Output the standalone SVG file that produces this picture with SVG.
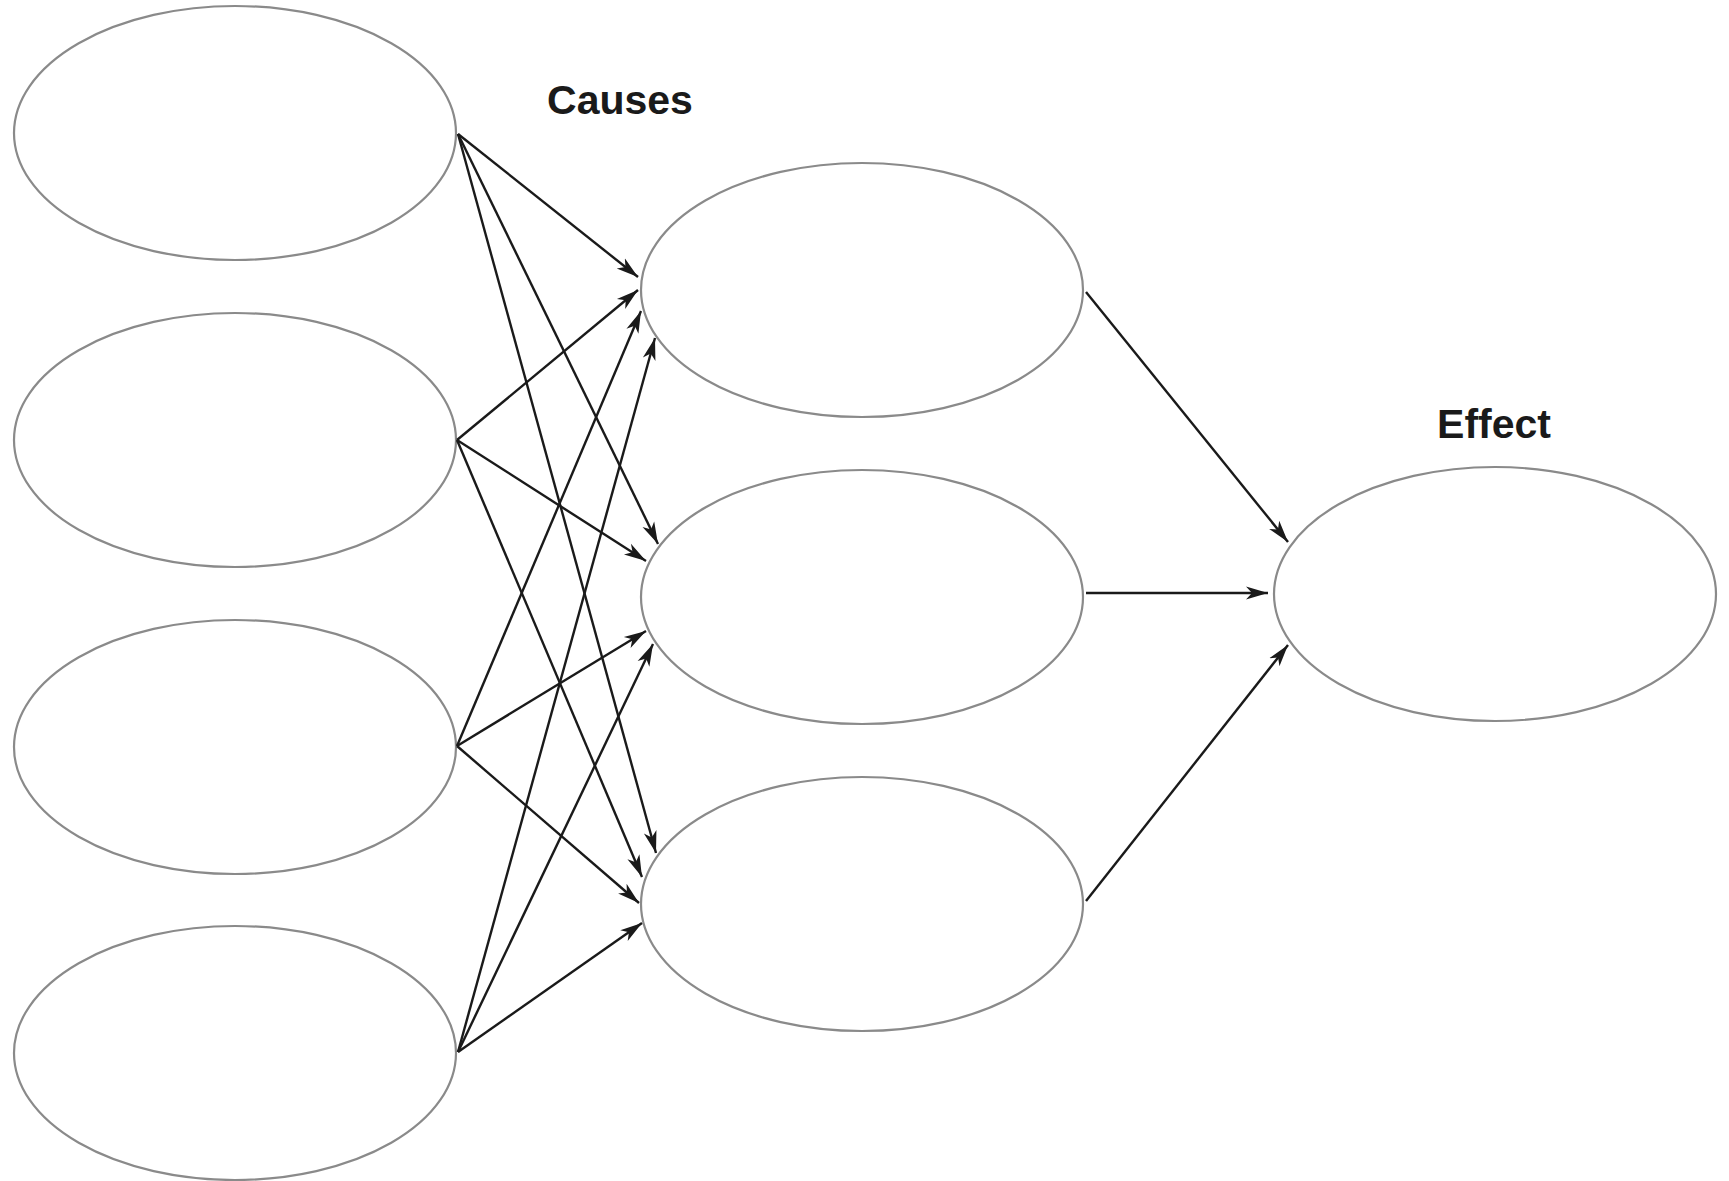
<svg xmlns="http://www.w3.org/2000/svg" width="1729" height="1181" viewBox="0 0 1729 1181">
<style>
.node{fill:#fff;stroke:#8a8a8a;stroke-width:2.2}
.edge{stroke:#1a1a1a;stroke-width:2.4;fill:none;marker-end:url(#arr)}
.lbl{font-family:"Liberation Sans",Arial,sans-serif;font-weight:bold;font-size:41px;fill:#1a1a1a;text-anchor:middle}
</style>
<defs>
<marker id="arr" markerUnits="userSpaceOnUse" markerWidth="24" markerHeight="16" refX="22" refY="8" orient="auto">
<path d="M0,1.5 L22,8 L0,14.5 L6,8 Z" fill="#1a1a1a"/>
</marker>
</defs>
<rect width="1729" height="1181" fill="#fff"/>
<g id="cause1"><ellipse class="node" cx="235" cy="133" rx="221" ry="127"/></g>
<g id="cause2"><ellipse class="node" cx="235" cy="440" rx="221" ry="127"/></g>
<g id="cause3"><ellipse class="node" cx="235" cy="747" rx="221" ry="127"/></g>
<g id="cause4"><ellipse class="node" cx="235" cy="1053" rx="221" ry="127"/></g>
<g id="mid1"><ellipse class="node" cx="862" cy="290" rx="221" ry="127"/></g>
<g id="mid2"><ellipse class="node" cx="862" cy="597" rx="221" ry="127"/></g>
<g id="mid3"><ellipse class="node" cx="862" cy="904" rx="221" ry="127"/></g>
<g id="effect"><ellipse class="node" cx="1495" cy="594" rx="221" ry="127"/></g>
<g id="labels">
<text class="lbl" x="620" y="114">Causes</text>
<text class="lbl" x="1494" y="438">Effect</text>
</g>
<g id="connectors">
<line class="edge" x1="458" y1="134" x2="638" y2="277"/>
<line class="edge" x1="458" y1="134" x2="658" y2="544"/>
<line class="edge" x1="458" y1="134" x2="656" y2="853"/>
<line class="edge" x1="457" y1="440" x2="638" y2="290"/>
<line class="edge" x1="457" y1="440" x2="646" y2="561"/>
<line class="edge" x1="457" y1="440" x2="642" y2="877"/>
<line class="edge" x1="457" y1="746" x2="641" y2="311"/>
<line class="edge" x1="457" y1="746" x2="646" y2="631"/>
<line class="edge" x1="457" y1="746" x2="639" y2="903"/>
<line class="edge" x1="458" y1="1052" x2="655" y2="338"/>
<line class="edge" x1="458" y1="1052" x2="653" y2="644"/>
<line class="edge" x1="458" y1="1052" x2="642" y2="923"/>
<line class="edge" x1="1086" y1="292" x2="1288" y2="542"/>
<line class="edge" x1="1086" y1="593" x2="1268" y2="593"/>
<line class="edge" x1="1086" y1="901" x2="1288" y2="645"/>
</g>
</svg>
